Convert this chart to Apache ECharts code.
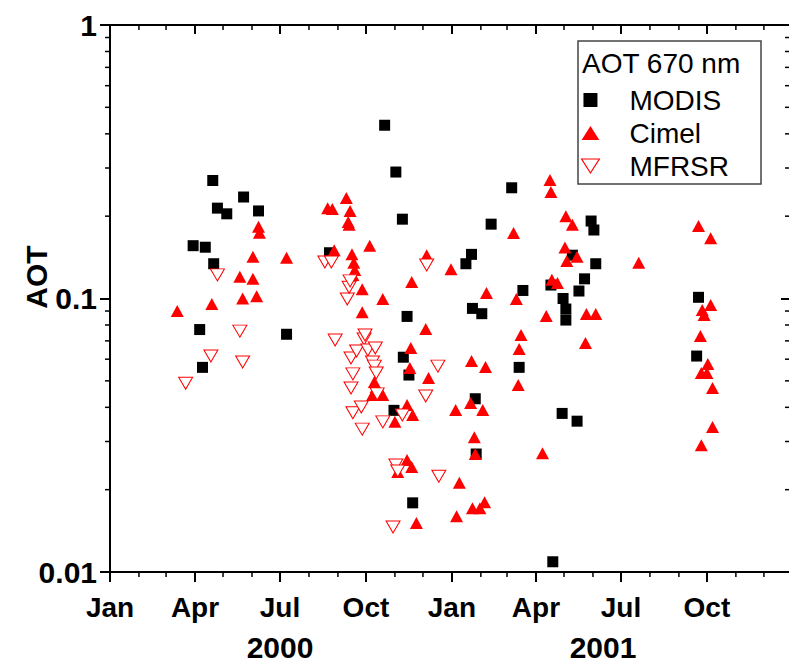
<!DOCTYPE html>
<html>
<head>
<meta charset="utf-8">
<script src="https://cdn.jsdelivr.net/npm/echarts@6/dist/echarts.min.js"></script>
<style>
html,body{margin:0;padding:0;background:#fff;}
#c{width:789px;height:665px;}
</style>
</head>
<body>
<div id="c"></div>
<script>
// ---- axis settings ----
const xMin = '2000-01-01';
const xMax = '2001-12-30';
const yMin = 0.01;
const yMax = 1;
const majorTicks = ['2000-01-01','2000-04-01','2000-07-01','2000-10-01','2001-01-01','2001-04-01','2001-07-01','2001-10-01'];
const minorTicks = ['2000-02-01','2000-03-01','2000-05-01','2000-06-01','2000-08-01','2000-09-01','2000-11-01','2000-12-01',
                    '2001-02-01','2001-03-01','2001-05-01','2001-06-01','2001-08-01','2001-09-01','2001-11-01','2001-12-01'];
const monthNames = ['Jan','Feb','Mar','Apr','May','Jun','Jul','Aug','Sep','Oct','Nov','Dec'];
const yMinorTicks = [0.02,0.03,0.04,0.05,0.06,0.07,0.08,0.09,0.2,0.3,0.4,0.5,0.6,0.7,0.8,0.9];
const yearLabels = ['2000','2001'];
const legendTitle = 'AOT 670 nm';
const yTitle = 'AOT';
const seriesNames = ['MODIS','Cimel','MFRSR'];

// ---- data: [date, AOT] ----
const modis = [
  ['2000-03-30',0.156],['2000-04-06',0.077],['2000-04-09',0.056],['2000-04-12',0.154],
  ['2000-04-20',0.27],['2000-04-21',0.134],['2000-04-25',0.214],['2000-05-05',0.204],
  ['2000-05-23',0.235],['2000-06-08',0.209],['2000-07-08',0.074],['2000-08-23',0.147],
  ['2000-10-21',0.43],['2000-10-31',0.039],['2000-11-02',0.29],['2000-11-09',0.195],
  ['2000-11-10',0.061],['2000-11-14',0.086],['2000-11-16',0.0525],['2000-11-20',0.0179],
  ['2001-01-16',0.134],['2001-01-22',0.145],['2001-01-23',0.092],['2001-01-26',0.043],
  ['2001-01-27',0.027],['2001-02-02',0.088],['2001-02-12',0.187],['2001-03-06',0.254],
  ['2001-03-14',0.056],['2001-03-18',0.107],['2001-04-17',0.112],['2001-04-19',0.0109],
  ['2001-04-29',0.038],['2001-04-30',0.100],['2001-05-03',0.0915],['2001-05-03',0.0834],
  ['2001-05-10',0.144],['2001-05-15',0.0356],['2001-05-17',0.1065],['2001-05-23',0.118],
  ['2001-05-30',0.192],['2001-06-02',0.178],['2001-06-04',0.134],['2001-09-20',0.0616],
  ['2001-09-22',0.101]
];
const cimel = [
  ['2000-03-13',0.090],['2000-04-19',0.0955],['2000-05-19',0.120],['2000-05-22',0.100],
  ['2000-06-02',0.118],['2000-06-02',0.142],['2000-06-06',0.102],['2000-06-08',0.183],
  ['2000-06-09',0.174],['2000-07-08',0.141],['2000-08-21',0.214],['2000-08-26',0.2125],
  ['2000-08-28',0.150],['2000-09-10',0.233],['2000-09-12',0.1905],['2000-09-13',0.186],
  ['2000-09-14',0.209],['2000-09-16',0.145],['2000-09-17',0.122],['2000-09-18',0.135],
  ['2000-09-19',0.127],['2000-09-27',0.108],['2000-09-27',0.089],['2000-10-05',0.156],
  ['2000-10-08',0.0444],['2000-10-10',0.0495],['2000-10-12',0.0475],['2000-10-19',0.0996],
  ['2000-10-19',0.0444],['2000-11-01',0.0354],['2000-11-04',0.0232],['2000-11-14',0.0408],
  ['2000-11-14',0.0257],['2000-11-17',0.0557],['2000-11-18',0.0659],['2000-11-19',0.115],
  ['2000-11-19',0.0242],['2000-11-20',0.0375],['2000-11-24',0.0151],['2000-12-04',0.0774],
  ['2000-12-05',0.144],['2000-12-07',0.0512],['2000-12-31',0.128],
  ['2001-01-05',0.0391],['2001-01-06',0.016],['2001-01-09',0.0212],['2001-01-21',0.0415],
  ['2001-01-22',0.0591],['2001-01-23',0.0171],['2001-01-25',0.0311],['2001-01-26',0.027],
  ['2001-01-31',0.0171],['2001-02-03',0.0391],['2001-02-05',0.018],['2001-02-06',0.0562],
  ['2001-02-07',0.1047],['2001-03-08',0.1736],['2001-03-11',0.0996],['2001-03-13',0.0483],
  ['2001-03-14',0.0654],['2001-03-16',0.0735],['2001-04-08',0.0272],['2001-04-12',0.0863],
  ['2001-04-16',0.271],['2001-04-17',0.245],['2001-04-18',0.117],['2001-04-24',0.114],
  ['2001-05-02',0.1535],['2001-05-03',0.200],['2001-05-04',0.137],['2001-05-10',0.186],
  ['2001-05-15',0.142],['2001-05-24',0.0688],['2001-05-25',0.0878],['2001-06-04',0.0878],
  ['2001-07-20',0.135],['2001-09-22',0.184],['2001-09-24',0.0729],['2001-09-25',0.0534],
  ['2001-09-25',0.0291],['2001-09-26',0.0908],['2001-09-28',0.0871],['2001-10-01',0.0534],
  ['2001-10-02',0.0576],['2001-10-05',0.166],['2001-10-05',0.0947],['2001-10-07',0.0471],
  ['2001-10-07',0.0339]
];
const mfrsr = [
  ['2000-03-22',0.049],['2000-04-18',0.0616],['2000-04-25',0.122],['2000-05-19',0.076],
  ['2000-05-22',0.0586],['2000-08-18',0.136],['2000-08-25',0.136],['2000-08-29',0.0705],
  ['2000-09-11',0.0996],['2000-09-13',0.110],['2000-09-14',0.116],['2000-09-15',0.0606],
  ['2000-09-15',0.0471],['2000-09-17',0.053],['2000-09-17',0.0382],['2000-09-21',0.0643],
  ['2000-09-26',0.0401],['2000-09-27',0.0333],['2000-09-29',0.0711],['2000-09-30',0.0735],
  ['2000-10-03',0.0648],['2000-10-08',0.0586],['2000-10-10',0.0566],['2000-10-11',0.0659],
  ['2000-10-12',0.0534],['2000-10-13',0.0448],['2000-10-19',0.0354],['2000-10-30',0.0146],
  ['2000-11-02',0.0246],['2000-11-04',0.0234],['2000-11-09',0.0375],['2000-12-04',0.044],
  ['2000-12-05',0.1326],['2000-12-17',0.0566],['2000-12-18',0.0224]
];

// ---- chart ----
const FONT = '"Liberation Sans", Arial, sans-serif';
const toTime = function (s) { return Date.parse(s); }; // UTC milliseconds
const toPoints = function (arr) { return arr.map(function (d) { return [toTime(d[0]), d[1]]; }); };
const tMin = toTime(xMin), tMax = toTime(xMax);
const majorT = majorTicks.map(toTime);

const chart = echarts.init(document.getElementById('c'), null, {renderer: 'svg', width: 789, height: 665});

const lineStyleAxis = {color: '#000', width: 2};
const tickStyle = {color: '#000', width: 2};

const option = {
  animation: false,
  backgroundColor: '#fff',
  grid: {left: 110, top: 25, right: -2, bottom: 93, containLabel: false, outerBoundsMode: 'none'},
  xAxis: [
    {
      type: 'value', position: 'bottom', min: tMin, max: tMax, scale: true,
      axisLine: {show: true, onZero: false, lineStyle: lineStyleAxis},
      axisTick: {show: true, inside: false, length: 10, lineStyle: tickStyle, customValues: majorT},
      axisLabel: {
        show: true, customValues: majorT, margin: 21, hideOverlap: false,
        fontSize: 28, fontWeight: 'bold', fontFamily: FONT, color: '#000',
        formatter: function (v) { return monthNames[new Date(v).getUTCMonth()]; }
      },
      splitLine: {show: false}
    },
    {
      type: 'value', position: 'top', min: tMin, max: tMax, scale: true,
      axisLine: {show: true, onZero: false, lineStyle: lineStyleAxis},
      axisTick: {show: true, inside: true, length: 9, lineStyle: tickStyle, customValues: majorT},
      axisLabel: {show: false},
      splitLine: {show: false}
    }
  ],
  yAxis: [
    {
      type: 'log', logBase: 10, position: 'left', min: yMin, max: yMax,
      axisLine: {show: true, onZero: false, lineStyle: lineStyleAxis},
      axisTick: {show: true, inside: false, length: 10, lineStyle: tickStyle},
      axisLabel: {
        show: true, margin: 13, fontSize: 30, fontWeight: 'bold', fontFamily: FONT, color: '#000',
        formatter: function (v) { return String(Math.round(v * 1000) / 1000); }
      },
      splitLine: {show: false}
    },
    {
      type: 'log', logBase: 10, position: 'right', min: yMin, max: yMax,
      axisLine: {show: true, onZero: false, lineStyle: lineStyleAxis},
      axisTick: {show: true, inside: true, length: 10, lineStyle: tickStyle},
      axisLabel: {show: false},
      splitLine: {show: false}
    }
  ],
  legend: {
    orient: 'vertical', left: 576, top: 81,
    itemWidth: 68, itemHeight: 14, itemGap: 5,
    textStyle: {fontSize: 28, fontFamily: FONT, color: '#000'},
    selectedMode: false,
    data: [
      {name: seriesNames[0], icon: 'path://M0,0L10,0L10,10L0,10Z', itemStyle: {color: '#000'}},
      {name: seriesNames[1], icon: 'path://M5,0L10,7.9L0,7.9Z', itemStyle: {color: '#ff0000'}},
      {name: seriesNames[2], icon: 'path://M0,0L10,0L5,7.9Z', itemStyle: {color: '#fff', borderColor: '#ff0000', borderWidth: 1.2}}
    ]
  },
  graphic: [
    {type: 'rect', shape: {x: 578, y: 41, width: 183, height: 143}, style: {fill: 'none', stroke: '#444', lineWidth: 1.5}, z: 10},
    {type: 'text', x: 582, y: 63, style: {text: legendTitle, font: '28px ' + FONT, fill: '#000', align: 'left', verticalAlign: 'middle'}, z: 10},
    {type: 'text', x: 280, y: 647, style: {text: yearLabels[0], font: 'bold 30px ' + FONT, fill: '#000', align: 'center', verticalAlign: 'middle'}},
    {type: 'text', x: 603, y: 647, style: {text: yearLabels[1], font: 'bold 30px ' + FONT, fill: '#000', align: 'center', verticalAlign: 'middle'}},
    {type: 'text', x: 36, y: 277, rotation: Math.PI / 2, style: {text: yTitle, font: 'bold 30px ' + FONT, fill: '#000', align: 'center', verticalAlign: 'middle'}}
  ],
  series: [
    {
      name: 'monthTicks', type: 'custom', silent: true, clip: false, z: 5,
      xAxisIndex: 0, yAxisIndex: 0,
      data: minorTicks.map(function (m) { return [toTime(m), yMin]; }),
      renderItem: function (params, api) {
        const cs = params.coordSys;
        const x = api.coord([api.value(0), yMin])[0];
        const b = cs.y + cs.height, t = cs.y;
        return {type: 'group', children: [
          {type: 'line', shape: {x1: x, y1: b, x2: x, y2: b + 5}, style: {stroke: '#000', lineWidth: 1.5}},
          {type: 'line', shape: {x1: x, y1: t, x2: x, y2: t + 5}, style: {stroke: '#000', lineWidth: 1.5}}
        ]};
      }
    },
    {
      name: 'logTicks', type: 'custom', silent: true, clip: false, z: 5,
      xAxisIndex: 0, yAxisIndex: 0,
      data: yMinorTicks.map(function (v) { return [tMin, v]; }),
      renderItem: function (params, api) {
        const cs = params.coordSys;
        const y = api.coord([api.value(0), api.value(1)])[1];
        const l = cs.x, r = cs.x + cs.width;
        return {type: 'group', children: [
          {type: 'line', shape: {x1: l - 5, y1: y, x2: l, y2: y}, style: {stroke: '#000', lineWidth: 1.5}},
          {type: 'line', shape: {x1: r - 6, y1: y, x2: r, y2: y}, style: {stroke: '#000', lineWidth: 1.5}}
        ]};
      }
    },
    {
      name: seriesNames[0], type: 'scatter', xAxisIndex: 0, yAxisIndex: 0,
      symbol: 'rect', symbolSize: 11,
      itemStyle: {color: '#000', opacity: 1},
      data: toPoints(modis)
    },
    {
      name: seriesNames[1], type: 'scatter', xAxisIndex: 0, yAxisIndex: 0,
      symbol: 'triangle', symbolSize: [13, 12],
      itemStyle: {color: '#ff0000', opacity: 1},
      data: toPoints(cimel)
    },
    {
      name: seriesNames[2], type: 'scatter', xAxisIndex: 0, yAxisIndex: 0,
      symbol: 'triangle', symbolRotate: 180, symbolSize: [14, 12],
      itemStyle: {color: '#fff', borderColor: '#ff0000', borderWidth: 1, opacity: 1},
      data: toPoints(mfrsr)
    }
  ]
};
chart.setOption(option);
</script>
</body>
</html>
